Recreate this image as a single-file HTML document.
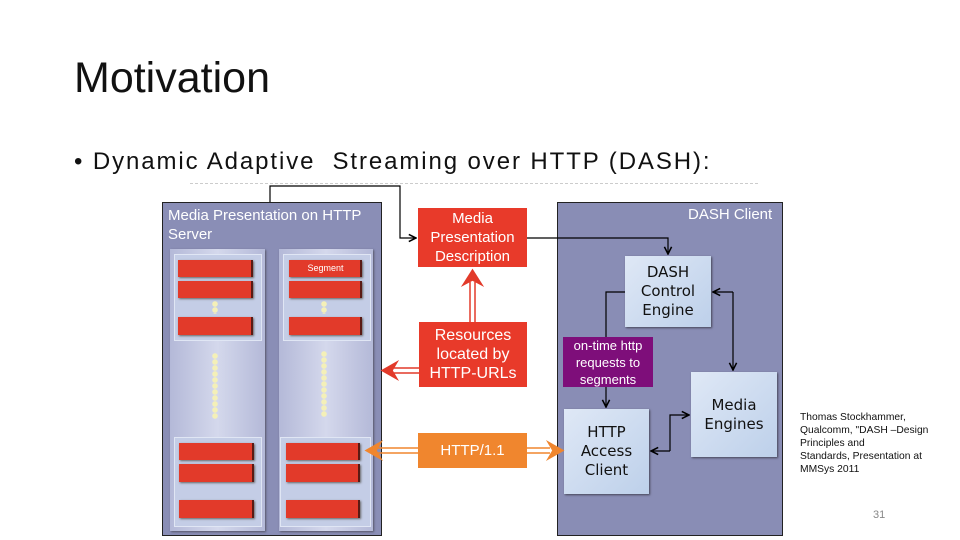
<!DOCTYPE html>
<html><head><style>
body{margin:0;width:960px;height:540px;background:#fff;position:relative;overflow:hidden;font-family:"Liberation Sans",sans-serif}
.a{position:absolute}
.seg{position:absolute;background:#e23a2a;box-shadow:-2px 0 0 #5a1a14 inset,1px 1px 2px #666}
.col{position:absolute;background:linear-gradient(90deg,#b4b9d8,#d4d8ec,#b4b9d8);box-shadow:1px 1px 2px #556}
.grp{position:absolute;background:#c4cde6;border:1px solid #e0e6f4}
.dots{position:absolute;width:6px;background:radial-gradient(circle,#f4f0b8 2.5px,transparent 3px);background-size:6px 6px}
.rb{position:absolute;background:#e83a2a;color:#fff;text-align:center;font-size:15px;line-height:19px;display:flex;align-items:center;justify-content:center}
.lb{position:absolute;background:linear-gradient(135deg,#dfe8f6,#bdd0ea);color:#111;text-align:center;font-size:15px;line-height:19px;display:flex;align-items:center;justify-content:center;box-shadow:1px 1px 2px #445;font-family:"DejaVu Sans",sans-serif}
</style></head><body>
<div class="a" style="left:74px;top:54px;font-size:43px;color:#111">Motivation</div>
<div class="a" style="left:74px;top:148px;font-size:24px;letter-spacing:1.9px;color:#111">• Dynamic Adaptive&nbsp; Streaming over HTTP (DASH):</div>
<div class="a" style="left:190px;top:183px;width:568px;border-top:1px dashed #ccc"></div>

<div class="a" style="left:162px;top:202px;width:218px;height:332px;background:#8a8eb6;border:1px solid #222"></div>
<div class="a" style="left:168px;top:206px;color:#fff;font-size:15px;line-height:19px">Media Presentation on HTTP<br>Server</div>
<div class="col" style="left:170px;top:249px;width:95px;height:282px"></div>
<div class="col" style="left:279px;top:249px;width:94px;height:282px"></div>
<div class="grp" style="left:174px;top:254px;width:86px;height:85px"></div>
<div class="grp" style="left:283px;top:254px;width:86px;height:85px"></div>
<div class="grp" style="left:174px;top:437px;width:86px;height:88px"></div>
<div class="grp" style="left:280px;top:437px;width:89px;height:88px"></div>
<div class="seg" style="left:178px;top:260px;width:75px;height:17px"></div>
<div class="seg" style="left:178px;top:281px;width:75px;height:17px"></div>
<div class="seg" style="left:178px;top:317px;width:75px;height:18px"></div>
<div class="seg" style="left:289px;top:260px;width:73px;height:17px;color:#fff;font-size:9px;text-align:center;line-height:17px">Segment</div>
<div class="seg" style="left:289px;top:281px;width:73px;height:17px"></div>
<div class="seg" style="left:289px;top:317px;width:73px;height:18px"></div>
<div class="seg" style="left:179px;top:443px;width:75px;height:17px"></div>
<div class="seg" style="left:179px;top:464px;width:75px;height:18px"></div>
<div class="seg" style="left:179px;top:500px;width:75px;height:18px"></div>
<div class="seg" style="left:286px;top:443px;width:74px;height:17px"></div>
<div class="seg" style="left:286px;top:464px;width:74px;height:18px"></div>
<div class="seg" style="left:286px;top:500px;width:74px;height:18px"></div>
<div class="dots" style="left:212px;top:301px;height:13px"></div>
<div class="dots" style="left:321px;top:301px;height:13px"></div>
<div class="dots" style="left:212px;top:353px;height:66px"></div>
<div class="dots" style="left:321px;top:351px;height:66px"></div>

<div class="a" style="left:557px;top:202px;width:224px;height:332px;background:#898db5;border:1px solid #222"></div>
<div class="a" style="left:688px;top:206px;color:#fff;font-size:15px">DASH Client</div>

<div class="rb" style="left:418px;top:208px;width:109px;height:59px">Media<br>Presentation<br>Description</div>
<div class="rb" style="left:419px;top:322px;width:108px;height:65px;font-size:16px">Resources<br>located by<br>HTTP-URLs</div>
<div class="rb" style="left:418px;top:433px;width:109px;height:35px;background:#f0862e;font-size:15px">HTTP/1.1</div>
<div class="lb" style="left:625px;top:256px;width:86px;height:71px">DASH<br>Control<br>Engine</div>
<div class="lb" style="left:691px;top:372px;width:86px;height:85px">Media<br>Engines</div>
<div class="lb" style="left:564px;top:409px;width:85px;height:85px">HTTP<br>Access<br>Client</div>
<div class="rb" style="left:563px;top:337px;width:90px;height:50px;background:#7e0e7a;font-size:13px;line-height:17px">on-time http<br>requests to<br>segments</div>

<svg class="a" style="left:0;top:0" width="960" height="540">
<defs><marker id="m" markerWidth="8" markerHeight="8" refX="7" refY="4" orient="auto"><path d="M1,1 L7,4 L1,7" fill="none" stroke="#000" stroke-width="1.3"/></marker></defs>
<g fill="none" stroke="#000" stroke-width="1.2">
<path d="M270,202 V186 H400 V238 H416" marker-end="url(#m)"/>
<path d="M527,238 H668 V254" marker-end="url(#m)"/>
<path d="M625,292 H606 V337"/>
<path d="M606,387 V407" marker-end="url(#m)"/>
<path d="M733,292 H713" marker-end="url(#m)"/>
<path d="M733,292 V370" marker-end="url(#m)"/>
<path d="M670,451 H651" marker-end="url(#m)"/>
<path d="M670,451 V415 H689" marker-end="url(#m)"/>
</g>
<g stroke="#e23a2a" stroke-width="1.5" fill="#e23a2a">
<line x1="470" y1="322" x2="470" y2="282"/><line x1="475" y1="322" x2="475" y2="282"/>
<path d="M463,285 L472.5,270 L482,285 L472.5,280Z"/>
<line x1="419" y1="368" x2="394" y2="368"/><line x1="419" y1="373" x2="394" y2="373"/>
<path d="M397,362 L382,370.5 L397,379 L392,370.5Z"/>
</g>
<g stroke="#f0862e" stroke-width="1.5" fill="#f0862e">
<line x1="418" y1="448" x2="378" y2="448"/><line x1="418" y1="453" x2="378" y2="453"/>
<path d="M381,442 L366,450.5 L381,459 L376,450.5Z"/>
<line x1="527" y1="448" x2="550" y2="448"/><line x1="527" y1="453" x2="550" y2="453"/>
<path d="M548,442 L563,450.5 L548,459 L553,450.5Z"/>
</g>
</svg>
<div class="a" style="left:800px;top:411px;font-size:10.3px;line-height:13px;color:#111">Thomas Stockhammer,<br>Qualcomm, "DASH –Design<br>Principles and<br>Standards, Presentation at<br>MMSys 2011</div>
<div class="a" style="left:873px;top:509px;font-size:11px;color:#888">31</div>
</body></html>
